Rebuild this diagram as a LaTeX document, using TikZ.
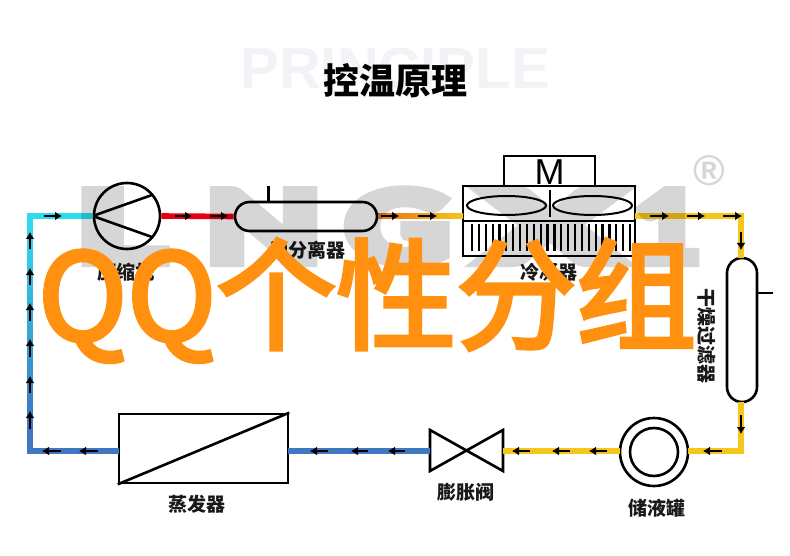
\documentclass[tikz,border=0pt]{standalone}
\usepackage{fontspec}
\usetikzlibrary{arrows.meta,shapes.geometric}
\newfontfamily\cjk{Noto Sans CJK SC}
\newfontfamily\cjkfat[FakeBold=3.5]{Noto Sans CJK SC}
\newfontfamily\wmfont[FakeBold=8]{Lato Black}
\setmainfont{Liberation Sans}
\definecolor{pipeCyan}{HTML}{2FDCEF}
\definecolor{pipeRed}{HTML}{E60012}
\definecolor{pipeOrange}{HTML}{E8701A}
\definecolor{pipeYellow}{HTML}{F7C61B}
\definecolor{pipeBlue}{HTML}{3F78C0}
\definecolor{bigOrange}{HTML}{FF9010}
\definecolor{subGrey}{HTML}{F2F3F6}
\definecolor{wmGrey}{HTML}{D6D6D6}
\tikzset{
  unit/.style={draw=black,line width=2.6pt,fill=white,inner sep=0pt},
  pipe/.style={line width=5.6pt,line join=miter},
  flow/.style={draw=black,line width=2.2pt,-{Latex[length=7pt,width=9pt]}},
  lab/.style={font=\cjk\fontsize{19}{19}\selectfont\bfseries,inner sep=0pt,text=black!90},
  wm/.style={font=\wmfont\fontsize{100}{100}\selectfont,text=wmGrey,inner sep=0pt,anchor=base west},
}
\begin{document}
\begin{tikzpicture}[x=1pt,y=-1pt]
\useasboundingbox (0,0) rectangle (790,556);
% headings
\node[inner sep=0pt,text=subGrey] (sub) at (395,69) {\bfseries\fontsize{58}{58}\selectfont PRINCIPLE};
\node[inner sep=0pt,font=\cjk\fontsize{36}{36}\selectfont\bfseries] (title) at (395,81) {控温原理};
% units
\node[unit,circle,minimum size=66pt] (comp) at (127,216) {};
\draw[line width=2.6pt] (comp.west) -- (152,195) (comp.west) -- (152,237);
\node[unit,rectangle,rounded corners=14.5pt,minimum width=142pt,minimum height=29pt] (sep) at (306,216.5) {};
\coordinate (sepstub) at (268.5,186);
\draw[line width=2.6pt] (sepstub) -- (sepstub |- sep.north);
\node[unit,rectangle,minimum width=91pt,minimum height=30pt] (motor) at (549.5,171) {};
\node[inner sep=0pt,font=\fontsize{36}{36}\selectfont] (mlabel) at (549.5,172) {M};
\node[unit,rectangle,minimum width=172pt,minimum height=70pt] (cond) at (549,221) {};
\draw[line width=2.6pt] (cond.west) -- (cond.east);
\node[draw=black,line width=2pt,ellipse,minimum width=79pt,minimum height=19pt,inner sep=0pt] (fanL) at (506.5,205.5) {};
\node[draw=black,line width=2pt,ellipse,minimum width=79pt,minimum height=19pt,inner sep=0pt] (fanR) at (592.5,205.5) {};
\draw[line width=2pt] (549.5,190) -- (549.5,217);
\foreach \i in {0,...,23} \draw[line width=2.2pt] ({472+\i*6.87},224) -- ({472+\i*6.87},251);
\node[unit,rectangle,rounded corners=15pt,minimum width=30pt,minimum height=144pt] (drier) at (742,330) {};
\coordinate (drierstub) at (773,293);
\draw[line width=2.6pt] (drierstub) -- (drierstub -| drier.east);
\node[unit,circle,minimum size=68pt] (recv) at (654,452) {};
\node[draw=black,line width=2.6pt,circle,minimum size=48pt,inner sep=0pt] (recvin) at (654,452) {};
\coordinate (vL) at (430,451);\coordinate (vR) at (503,451);
\draw[line width=2.6pt,line join=miter,fill=white] (430,430) -- (503,471) -- (503,430) -- (430,471) -- cycle;
\node[inner sep=0pt,minimum size=0pt] (valve) at (466.5,451) {};
\node[unit,rectangle,minimum width=169pt,minimum height=69pt] (evap) at (203.5,448.5) {};
\draw[line width=2.6pt] (evap.south west) -- (evap.north east);
% pipes
\coordinate (condW) at (463,216);\coordinate (condE) at (635,216);
\coordinate (cornerTR) at (741,216);\coordinate (cornerBR) at (741,451);
\coordinate (cornerBL) at (30,451);\coordinate (cornerTL) at (30,216);
\coordinate (evE) at (288,451);\coordinate (evW) at (119,451);
\coordinate (drT) at (741,258);\coordinate (drB) at (741,402);
\coordinate (rE) at (688,451);\coordinate (rW) at (620,451);
\draw[pipe,pipeRed] (comp.east) -- (sep.west);
\fill[left color=pipeOrange,right color=pipeYellow] ([yshift=2.8pt]sep.east |- condW) rectangle ([yshift=-2.8pt]condW);
\draw[pipe,pipeYellow] (condE) -- (cornerTR) -- (drT);
\draw[pipe,pipeYellow] (drB) -- (cornerBR) -- (rE);
\draw[pipe,pipeYellow] (rW) -- (vR);
\draw[pipe,pipeBlue] (vL) -- (evE);
\draw[pipe,pipeBlue] (evW) -- (cornerBL) -- ([yshift=30pt]cornerBL);
\fill[top color=pipeCyan,bottom color=pipeBlue] ([shift={(-2.8pt,-2.8pt)}]cornerTL) rectangle ([shift={(2.8pt,30pt)}]cornerBL);
\draw[pipe,pipeCyan] ([xshift=-2.8pt]cornerTL) -- (comp.west);
% flow arrows
\foreach \a/\b in {44/62,175/192,210/228,381/399,418/437,650/669,687/705,723/742}
  \draw[flow] (\a,216) -- (\b,216);
\foreach \a/\b in {232/250,415/434}
  \draw[flow] (741,\a) -- (741,\b);
\foreach \a/\b in {722/703,530/512,570/552,607/589,405/388,368/351,328/310,98/79,61/42}
  \draw[flow] (\a,451) -- (\b,451);
\foreach \a/\b in {249/232,285/268,321/303,357/339,393/376,429/411}
  \draw[flow] (30,\a) -- (30,\b);
% labels
\node[lab] (l1) at (126,272) {压缩机};
\node[lab] (l2) at (307,250) {油分离器};
\node[lab] (l3) at (549,272) {冷凝器};
\node[lab,rotate=-90] (l4) at (707,336) {干燥过滤器};
\node[lab] (l5) at (197,504) {蒸发器};
\node[lab] (l6) at (466,492) {膨胀阀};
\node[lab] (l7) at (657,508) {储液罐};
% watermark
\begin{scope}[transparency group,blend mode=multiply]
\node[wm,xscale=1.7] (w1) at (76,263) {L};
\node[wm,xscale=1.5] (w2) at (205,263) {N};
\node[wm,xscale=1.45] (w3) at (345,263) {G};
\node[wm,xscale=2.05] (w4) at (480,263) {X};
\node[wm,xscale=1.15] (w5) at (634,263) {1};
\node[inner sep=0pt,text=wmGrey,font=\bfseries\fontsize{43}{43}\selectfont] (reg) at (709,171) {®};
\end{scope}
% overlay
\node[inner sep=0pt,anchor=base west,text=bigOrange,font=\cjkfat\fontsize{120}{120}\selectfont] (big) at (38,340) {QQ个性分组};
\end{tikzpicture}
\end{document}
